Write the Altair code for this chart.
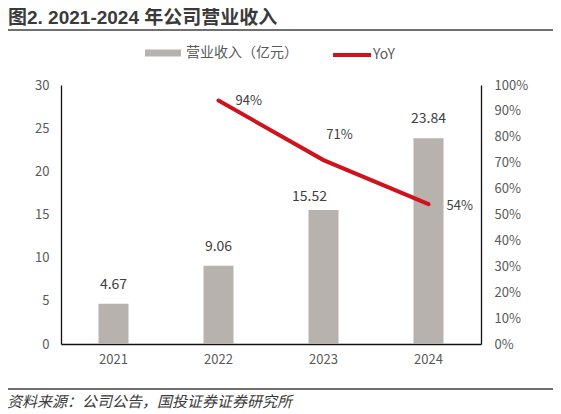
import altair as alt
import pandas as pd

years = ["2021", "2022", "2023", "2024"]
revenue = [4.67, 9.06, 15.52, 23.84]
yoy_years = ["2022", "2023", "2024"]
yoy = [0.94, 0.71, 0.54]
pct_ticks = [0, 0.1, 0.2, 0.3, 0.4, 0.5, 0.6, 0.7, 0.8, 0.9, 1.0]
rev_ticks = [0, 5, 10, 15, 20, 25, 30]

title_text = "图2. 2021-2024 年公司营业收入"
footer_text = "资料来源：公司公告，国投证券证券研究所"
bar_series = "营业收入（亿元）"
line_series = "YoY"

FONT = "Noto Sans CJK SC"
TITLE_FONT = "Liberation Sans, Noto Sans CJK SC"
GRAY_TXT = "#595959"
BAR_C = "#B7B2AE"
RED = "#D0121D"

rev_df = pd.DataFrame({"year": years, "revenue": revenue, "series": [bar_series] * len(years)})
yoy_df = pd.DataFrame({"year": yoy_years, "yoy": yoy, "series": [line_series] * len(yoy_years)})

xenc = alt.X("year:N", scale=alt.Scale(domain=years, paddingInner=0.2, paddingOuter=0.1),
             axis=alt.Axis(title=None, labelAngle=0, ticks=False, domainColor="#111",
                           domainWidth=1.3, labelFontSize=13, labelColor=GRAY_TXT,
                           labelPadding=9, labelFont=FONT))

yleft = alt.Y("revenue:Q", scale=alt.Scale(domain=[0, 30], nice=False),
              axis=alt.Axis(orient="left", title=None, values=rev_ticks,
                            ticks=False, grid=False, domainColor="#111", domainWidth=1.3,
                            labelFontSize=13, labelColor=GRAY_TXT, labelPadding=12,
                            labelFont=FONT, labelOverlap=False))

yright = alt.Y("yoy:Q", scale=alt.Scale(domain=[0, 1], nice=False),
               axis=alt.Axis(orient="right", title=None, values=pct_ticks, tickCount=11,
                             format=".0%", ticks=False, grid=False, domainColor="#111",
                             domainWidth=1.3, labelFontSize=13, labelColor=GRAY_TXT,
                             labelPadding=13, labelFont=FONT, labelOverlap=False,
                             labelFlush=False))

base_rev = alt.Chart(rev_df)
bars = base_rev.mark_bar(size=30).encode(
    x=xenc, y=yleft,
    fill=alt.Fill("series:N", scale=alt.Scale(domain=[bar_series], range=[BAR_C]),
                  legend=alt.Legend(title=None, orient="none", legendX=84, legendY=-50,
                                    symbolType="M-1,-0.2H1V0.2H-1Z", symbolSize=1296,
                                    symbolStrokeWidth=0, labelFontSize=14, labelColor=GRAY_TXT,
                                    labelFont=FONT, labelOffset=5, padding=0)),
)
bar_lab = base_rev.mark_text(dy=-19, baseline="middle", fontSize=14, color="#404040",
                             font=FONT).encode(
    x=xenc, y=yleft,
    text=alt.Text("revenue:Q", format=".2f"),
).transform_filter(alt.datum.year != "2023")
bar_lab23 = base_rev.mark_text(dx=-14, dy=-13, baseline="middle", fontSize=14, color="#404040",
                               font=FONT).encode(
    x=xenc, y=yleft,
    text=alt.Text("revenue:Q", format=".2f"),
).transform_filter(alt.datum.year == "2023")

left_group = alt.layer(bars, bar_lab, bar_lab23)

base_yoy = alt.Chart(yoy_df)
line = base_yoy.mark_line(strokeWidth=4, strokeCap="round").encode(
    x=xenc, y=yright,
    stroke=alt.Stroke("series:N", scale=alt.Scale(domain=[line_series], range=[RED]),
                      legend=alt.Legend(title=None, orient="none", legendX=270, legendY=-51,
                                        symbolType="stroke", symbolSize=1444,
                                        symbolStrokeWidth=4, labelFontSize=14,
                                        labelColor=GRAY_TXT, labelFont=FONT,
                                        labelOffset=0, padding=0)),
)

def yoy_label(yr, dx, dy, align):
    return base_yoy.mark_text(dx=dx, dy=dy, align=align, baseline="middle", fontSize=13,
                              color="#404040", font=FONT).encode(
        x=xenc, y=yright,
        text=alt.Text("yoy:Q", format=".0%"),
    ).transform_filter(alt.datum.year == yr)

right_group = alt.layer(line,
                        yoy_label("2022", 17, 0, "left"),
                        yoy_label("2023", 16, -25, "center"),
                        yoy_label("2024", 18, 2, "left"))

one = alt.Data(values=[{"k": 1}])
title_mark = alt.Chart(one).mark_text(align="left", baseline="middle", fontSize=19,
                                      fontWeight="bold", color="#3a3a3a", font=TITLE_FONT).encode(
    x=alt.value(-53), y=alt.value(-67), text=alt.value(title_text))
title_rule = alt.Chart(one).mark_rule(color="#404040", strokeWidth=1.5).encode(
    x=alt.value(-56), x2=alt.value(494), y=alt.value(-55))
foot_rule = alt.Chart(one).mark_rule(color="#404040", strokeWidth=1.5).encode(
    x=alt.value(-56), x2=alt.value(494), y=alt.value(304))
foot_mark = alt.Chart(one).mark_text(align="left", baseline="middle", fontSize=15,
                                     fontStyle="italic", color="#3a3a3a", font=FONT).encode(
    x=alt.value(-54), y=alt.value(317), text=alt.value(footer_text))

chart = alt.layer(left_group, right_group, title_mark, title_rule, foot_rule, foot_mark).resolve_scale(
    y="independent", fill="independent", stroke="independent"
).resolve_legend(fill="independent", stroke="independent").properties(
    width=420, height=259,
    autosize=alt.AutoSizeParams(type="none"),
    padding={"left": 53, "top": 77, "right": 72, "bottom": 70},
).configure_view(stroke=None).configure_axis(grid=False)

chart.save("out.html", embed_options={"renderer": "svg", "actions": False})
